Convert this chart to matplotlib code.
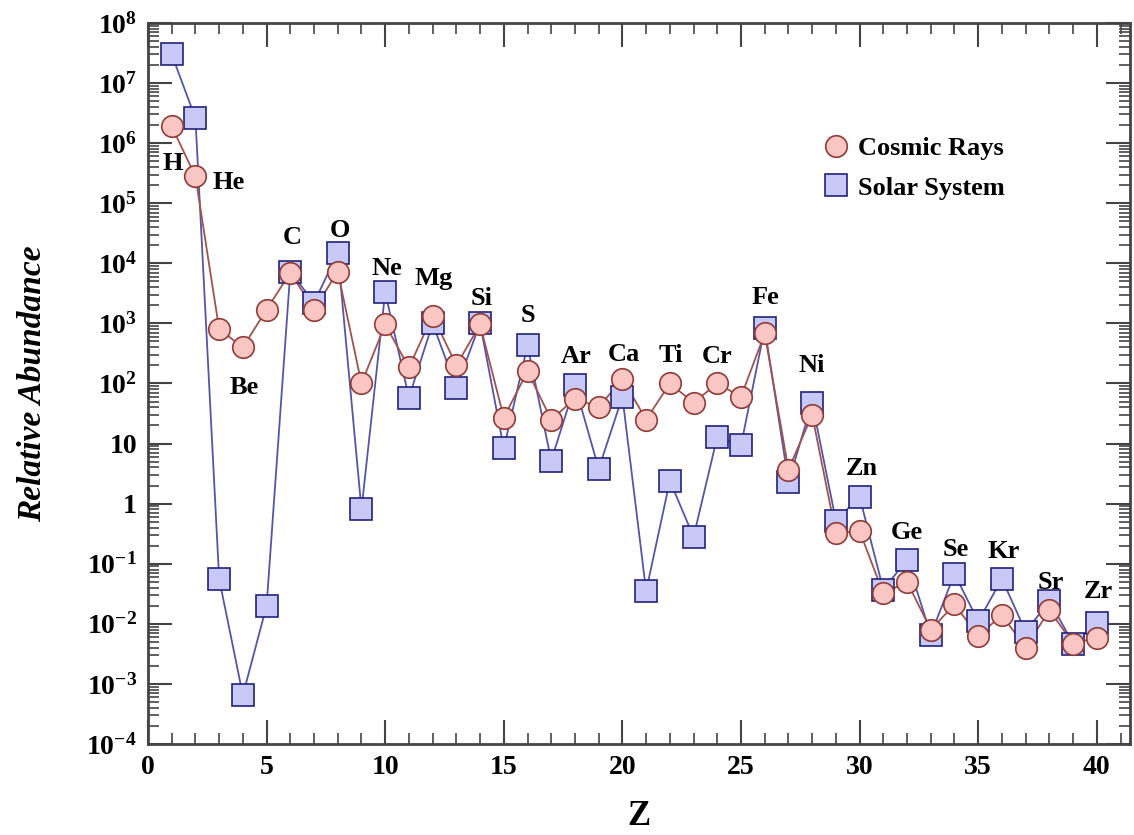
import numpy as np
import matplotlib
matplotlib.use("Agg")
import matplotlib.pyplot as plt
from matplotlib.ticker import LogLocator, FuncFormatter, MultipleLocator

plt.rcParams['font.family'] = ['Liberation Serif', 'DejaVu Serif']
plt.rcParams['font.weight'] = 'bold'
plt.rcParams['mathtext.fontset'] = 'custom'
plt.rcParams['mathtext.rm'] = 'Liberation Serif:bold'
plt.rcParams['mathtext.it'] = 'Liberation Serif:bold:italic'
plt.rcParams['mathtext.bf'] = 'Liberation Serif:bold'

z = np.arange(1, 41)

cosmic_rays = [1.9e6, 2.8e5, 800, 400, 1700, 7000, 1700, 7300, 100, 960,
               185, 1350, 200, 960, 27, 160, 25, 56, 40, 120,
               25, 100, 48, 100, 60, 680, 3.7, 30, 0.32, 0.35,
               0.032, 0.05, 0.008, 0.021, 0.0063, 0.014, 0.004, 0.017, 0.0047, 0.0059]

solar_system = [3e7, 2.6e6, 0.056, 6.5e-4, 0.02, 7300, 2200, 1.5e4, 0.8, 3300,
                58, 1000, 85, 1000, 8.3, 430, 5.2, 93, 3.8, 60,
                0.035, 2.4, 0.28, 13, 9.3, 830, 2.3, 48, 0.52, 1.3,
                0.037, 0.117, 0.0066, 0.068, 0.011, 0.056, 0.0074, 0.024, 0.0047, 0.0104]

element_names = ['H', 'He', 'Be', 'C', 'O', 'Ne', 'Mg', 'Si', 'S', 'Ar', 'Ca',
                 'Ti', 'Cr', 'Fe', 'Ni', 'Zn', 'Ge', 'Se', 'Kr', 'Sr', 'Zr']
label_x = [1.05, 3.4, 4.05, 6.07, 8.09, 10.07, 12.05, 14.07, 16.0, 18.07, 20.05,
           22.03, 24.0, 26.03, 28.0, 30.08, 32.0, 34.04, 36.06, 38.04, 40.06]
label_y = [4.6e5, 2.2e5, 86, 2.7e4, 3.5e4, 8300, 5600, 2600, 1360, 280, 300,
           295, 280, 2700, 200, 3.8, 0.33, 0.17, 0.16, 0.048, 0.035]

fig = plt.figure(figsize=(11.34, 8.35), dpi=100)
ax = fig.add_axes([0.1305, 0.109, 0.866, 0.8635])

ax.plot(z, solar_system, '-', color='#5555a8', lw=1.3, zorder=2)
ax.plot(z, cosmic_rays, '-', color='#a0524f', lw=1.3, zorder=3)
ax.plot(z, solar_system, 's', ms=15.5, mfc='#c9c9f7', mec='#22227a', mew=1.2,
        zorder=4, label='Solar System')
ax.plot(z, cosmic_rays, 'o', ms=15.5, mfc='#f9c6c4', mec='#8e3b38', mew=1.2,
        zorder=5, label='Cosmic Rays')

for name, x, y in zip(element_names, label_x, label_y):
    ax.text(x, y, name, ha='center', va='center', fontsize=19, fontweight='bold')

ax.set_yscale('log')
ax.set_xlim(0, 41.4)
ax.set_ylim(1e-4, 1e8)

ax.xaxis.set_major_locator(MultipleLocator(5))
ax.xaxis.set_minor_locator(MultipleLocator(1))
ax.yaxis.set_major_locator(LogLocator(base=10, numticks=20))
ax.yaxis.set_minor_locator(LogLocator(base=10, subs=np.arange(2, 10), numticks=20))


def ylabel_fmt(v, pos):
    e = int(round(np.log10(v)))
    if e == 0:
        return '1'
    if e == 1:
        return '10'
    return r'$\mathbf{10^{%d}}$' % e


ax.yaxis.set_major_formatter(FuncFormatter(ylabel_fmt))

ax.tick_params(which='both', direction='in', top=True, right=True, color='#444444')
ax.tick_params(which='major', length=17, width=1.5, labelsize=20, pad=8)
ax.tick_params(which='minor', length=8, width=1.2)
for lab in ax.get_xticklabels() + ax.get_yticklabels():
    lab.set_fontweight('bold')
for s in ax.spines.values():
    s.set_linewidth(2)
    s.set_color('#444444')

ax.set_xlabel('Z', fontsize=25, fontweight='bold', labelpad=14)
ax.set_ylabel('Relative Abundance', fontsize=24, fontweight='bold', style='italic', labelpad=28)

handles, labels = ax.get_legend_handles_labels()
ax.legend(handles[::-1], labels[::-1], loc='upper left', bbox_to_anchor=(0.663, 0.875),
          frameon=False, fontsize=19, handletextpad=0.35, labelspacing=0.6,
          handlelength=1.0, markerscale=1.0)

fig.savefig('out.png', dpi=100)
